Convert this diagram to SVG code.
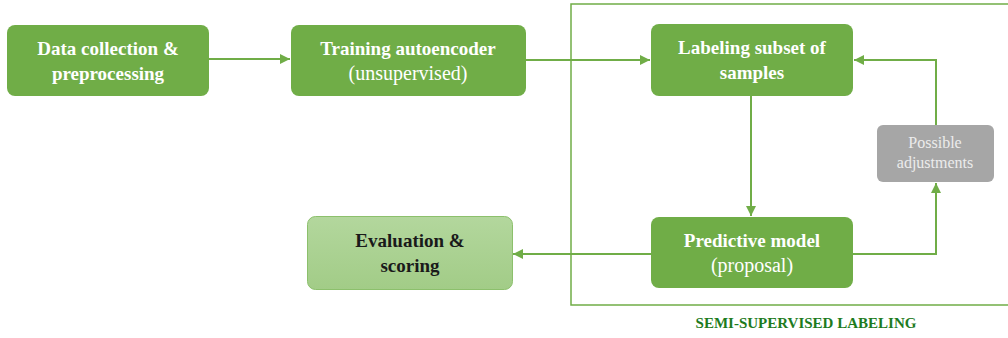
<svg xmlns="http://www.w3.org/2000/svg" width="1008" height="338" viewBox="0 0 1008 338">
  <style>
    .box { fill: #70ad47; }
    .eval { stroke: #8cc06c; stroke-width: 1; }
    .grey { fill: #a6a6a6; }
    .t { font-family: "Liberation Serif", "DejaVu Serif", serif; font-size: 20px; fill: #ffffff; text-anchor: middle; }
    .b { font-weight: bold; font-size: 19px; }
    .dark { fill: #1a1a1a; }
    .small { font-size: 16px; fill: #ececec; }
    .wire { fill: none; stroke: #70ad47; stroke-width: 2; }
    .frame { fill: none; stroke: #70ad47; stroke-width: 1.5; }
    .cap { font-family: "Liberation Serif", "DejaVu Serif", serif; font-size: 15px; font-weight: bold; fill: #1e7b1e; text-anchor: middle; }
  </style>
  <defs>
    <marker id="arr" viewBox="0 0 10 10" refX="10" refY="5" markerWidth="5" markerHeight="5" orient="auto" markerUnits="strokeWidth">
      <path d="M0,0 L10,5 L0,10 z" fill="#70ad47"/>
    </marker>
    <linearGradient id="evalGrad" x1="0" y1="0" x2="0" y2="1">
      <stop offset="0" stop-color="#b3d79d"/>
      <stop offset="1" stop-color="#a2cc87"/>
    </linearGradient>
  </defs>

  <!-- semi-supervised region frame -->
  <g id="semi-supervised">
    <path class="frame" d="M1010,4 H571 V305 H1010"/>
    <text class="cap" x="806" y="328">SEMI-SUPERVISED LABELING</text>
  </g>

  <!-- connectors -->
  <g id="connectors">
    <line class="wire" x1="209" y1="59" x2="290" y2="59" marker-end="url(#arr)"/>
    <line class="wire" x1="526" y1="60" x2="650" y2="60" marker-end="url(#arr)"/>
    <line class="wire" x1="751" y1="96" x2="751" y2="216" marker-end="url(#arr)"/>
    <polyline class="wire" points="853,254 936,254 936,183" marker-end="url(#arr)"/>
    <polyline class="wire" points="936,125 936,60 854,60" marker-end="url(#arr)"/>
    <line class="wire" x1="651" y1="254" x2="513" y2="254" marker-end="url(#arr)"/>
  </g>

  <g id="data-collection">
    <rect class="box" x="7" y="25" width="202" height="71" rx="8"/>
    <text class="t b" x="108" y="55">Data collection &amp;</text>
    <text class="t b" x="108" y="80">preprocessing</text>
  </g>

  <g id="training-autoencoder">
    <rect class="box" x="291" y="25" width="235" height="71" rx="8"/>
    <text class="t b" x="408" y="55">Training autoencoder</text>
    <text class="t" x="408" y="80">(unsupervised)</text>
  </g>

  <g id="labeling-subset">
    <rect class="box" x="651" y="24" width="202" height="72" rx="8"/>
    <text class="t b" x="752" y="54">Labeling subset of</text>
    <text class="t b" x="752" y="79">samples</text>
  </g>

  <g id="predictive-model">
    <rect class="box" x="651" y="217" width="202" height="71" rx="8"/>
    <text class="t b" x="752" y="247">Predictive model</text>
    <text class="t" x="752" y="272">(proposal)</text>
  </g>

  <g id="evaluation">
    <rect class="eval" x="307.5" y="216.5" width="205" height="73" rx="8" style="fill:url(#evalGrad)"/>
    <text class="t b dark" x="410" y="247">Evaluation &amp;</text>
    <text class="t b dark" x="410" y="272">scoring</text>
  </g>

  <g id="possible-adjustments">
    <rect class="grey" x="877" y="125" width="117" height="57" rx="6"/>
    <text class="t small" x="935" y="148">Possible</text>
    <text class="t small" x="935" y="168">adjustments</text>
  </g>
</svg>
